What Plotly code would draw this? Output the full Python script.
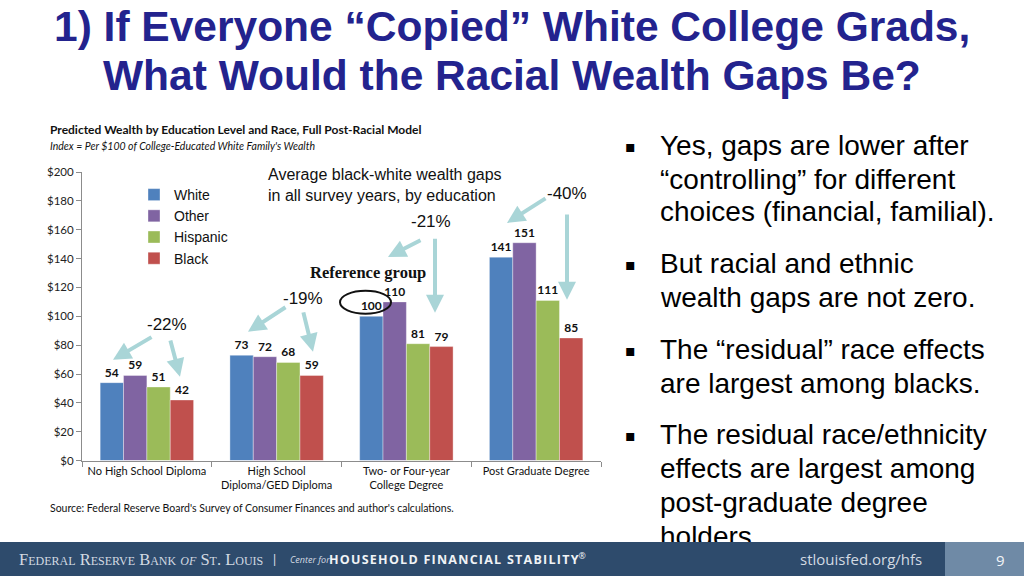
import plotly.graph_objects as go

# ---------------- data ----------------
categories = ["No High School Diploma", "High School<br>Diploma/GED Diploma",
              "Two- or Four-year<br>College Degree", "Post Graduate Degree"]
series_names = ["White", "Other", "Hispanic", "Black"]
white = [54, 73, 100, 141]
other = [59, 72, 110, 151]
hispanic = [51, 68, 81, 111]
black = [42, 59, 79, 85]
series_values = [white, other, hispanic, black]
colors = ["#4F81BD", "#8064A2", "#9BBB59", "#C0504D"]
y_ticks = list(range(0, 201, 20))
y_tick_labels = ["$" + str(v) for v in y_ticks]

title_lines = ["1) If Everyone \u201cCopied\u201d White College Grads,",
               "What Would the Racial Wealth Gaps Be?"]
chart_title = "Predicted Wealth by Education Level and Race, Full Post-Racial Model"
chart_subtitle = "Index = Per $100 of College-Educated White Family's Wealth"
source_text = "Source: Federal Reserve Board's Survey of Consumer Finances and author's calculations."
note_text = "Average black-white wealth gaps<br>in all survey years, by education"
bullets = [
    ["Yes, gaps are lower after", "\u201ccontrolling\u201d for different", "choices (financial, familial)."],
    ["But racial and ethnic", "wealth gaps are not zero."],
    ["The \u201cresidual\u201d race effects", "are largest among blacks."],
    ["The residual race/ethnicity", "effects are largest among", "post-graduate degree", "holders."],
]
page_number = "9"
gaps = [round((b / w - 1) * 100) for b, w in zip(black, white)]

# ---------------- layout helpers ----------------
W, H = 1024, 576
VS, VOFF = 0.979, 6.7   # vertical fit of the photographed page
def px(x):
    return x / W
def ypx(y):
    return (y - VOFF) / VS
def py(y):
    return 1 - ypx(y) / H

fig = go.Figure()
for name, vals, col in zip(series_names, series_values, colors):
    fig.add_trace(go.Bar(
        x=categories, y=vals, name=name, legendgroup=name,
        marker=dict(color=col, line=dict(color="rgba(255,255,255,0.6)", width=0.6)),
        text=vals, textposition="outside", cliponaxis=False,
        textfont=dict(family="Lato, Liberation Sans, sans-serif", size=12, color="#111"),
        texttemplate="<b>%{text}</b>",
    ))

ann = []
# main title
for line, yc in zip(title_lines, [26, 75]):
    ann.append(dict(text="<b>" + line + "</b>", x=0.5, y=py(yc), xref="paper", yref="paper",
                    xanchor="center", yanchor="middle", showarrow=False,
                    font=dict(family="Liberation Sans Narrow, Arial Narrow, Liberation Sans, sans-serif",
                              size=42.5, color="#23238E")))
# chart titles
ann.append(dict(text="<b>" + chart_title + "</b>", x=px(48), y=py(129), xref="paper", yref="paper",
                xanchor="left", yanchor="middle", showarrow=False,
                font=dict(family="Lato, sans-serif", size=12, color="#111")))
ann.append(dict(text="<i>" + chart_subtitle + "</i>", x=px(48), y=py(146), xref="paper", yref="paper",
                xanchor="left", yanchor="middle", showarrow=False,
                font=dict(family="Lato, sans-serif", size=10.5, color="#111")))
ann.append(dict(text=source_text, x=px(48), y=py(509), xref="paper", yref="paper",
                xanchor="left", yanchor="middle", showarrow=False,
                font=dict(family="Lato, sans-serif", size=10.5, color="#111")))
# note
ann.append(dict(text=note_text, x=px(266), y=py(185), xref="paper", yref="paper",
                xanchor="left", yanchor="middle", align="left", showarrow=False,
                font=dict(family="Liberation Sans, Arial, sans-serif", size=16, color="#111")))
# percentage labels
pct_pos = [(167, 325), (303, 299), (431, 222), (567, 193)]
for g, (xc, yc) in zip(gaps, pct_pos):
    ann.append(dict(text=f"{g}%", x=px(xc), y=py(yc), xref="paper", yref="paper",
                    xanchor="center", yanchor="middle", showarrow=False,
                    font=dict(family="Liberation Sans, Arial, sans-serif", size=17, color="#111")))
ann.append(dict(text="<b>Reference group</b>", x=px(368), y=py(273), xref="paper", yref="paper",
                xanchor="center", yanchor="middle", showarrow=False,
                font=dict(family="Liberation Serif, Times New Roman, serif", size=16.5, color="#111")))
# arrows (tail -> head, pixels)
arrows = [((153, 337), (113, 360)), ((170, 340), (180, 377)),
          ((287, 307), (248, 332)), ((303, 312), (313, 352)),
          ((422, 240), (388, 257)), ((435, 239), (435, 313)),
          ((547, 198), (507, 223)), ((567, 215), (567, 300))]
for (tx, ty), (hx, hy) in arrows:
    ann.append(dict(text="", x=px(hx), y=py(hy), xref="paper", yref="paper",
                    ax=tx - hx, ay=ypx(ty) - ypx(hy), showarrow=True, arrowhead=2, arrowsize=0.9,
                    arrowwidth=4, arrowcolor="#A9D5D7", standoff=0))
# bullets
bullet_y = [[145, 179, 212], [264, 298], [350, 384], [435, 469, 503, 537]]
for lines, ys in zip(bullets, bullet_y):
    ann.append(dict(text="\u25aa", x=px(630), y=py(ys[0] + 1), xref="paper", yref="paper",
                    xanchor="center", yanchor="middle", showarrow=False,
                    font=dict(family="DejaVu Sans, sans-serif", size=16, color="#000")))
    for line, yc in zip(lines, ys):
        ann.append(dict(text=line, x=px(658), y=py(yc), xref="paper", yref="paper",
                        xanchor="left", yanchor="middle", showarrow=False,
                        font=dict(family="Liberation Sans, Arial, sans-serif", size=28, color="#000")))
# footer band (annotation so it covers the last bullet line)
band_h = ypx(592) - ypx(544)
ann.append(dict(text=" ", x=-0.005, y=py(592), xref="paper", yref="paper", xanchor="left", yanchor="bottom",
                width=1040, height=band_h, bgcolor="#2E4B6C", borderpad=0, borderwidth=0, showarrow=False,
                font=dict(size=10)))
ann.append(dict(text=" ", x=px(945), y=py(592), xref="paper", yref="paper", xanchor="left", yanchor="bottom",
                width=85, height=band_h, bgcolor="#6F8AA6", borderpad=0, borderwidth=0, showarrow=False,
                font=dict(size=10)))
ann.append(dict(text=page_number, x=px(1000), y=py(561), xref="paper", yref="paper",
                xanchor="center", yanchor="middle", showarrow=False,
                font=dict(family="Open Sans, sans-serif", size=15, color="#F2F4F7")))
ann.append(dict(text="Federal Reserve Bank <i>of</i> St. Louis", x=px(17), y=py(560), xref="paper", yref="paper",
                xanchor="left", yanchor="middle", showarrow=False,
                font=dict(family="Liberation Serif, serif", size=16.5, color="#D3DAE2", variant="small-caps")))
ann.append(dict(text="|", x=px(274), y=py(560), xref="paper", yref="paper",
                xanchor="center", yanchor="middle", showarrow=False,
                font=dict(family="Liberation Sans, sans-serif", size=12, color="#D3DAE2")))
ann.append(dict(text="<i>Center for</i>", x=px(288), y=py(560), xref="paper", yref="paper",
                xanchor="left", yanchor="middle", showarrow=False,
                font=dict(family="Open Sans, sans-serif", size=9, color="#D3DAE2")))
spaced = "\u200a".join("HOUSEHOLD FINANCIAL STABILITY")
ann.append(dict(text="<b>" + spaced + "</b><sup>\u00ae</sup>", x=px(327), y=py(560),
                xref="paper", yref="paper", xanchor="left", yanchor="middle", showarrow=False,
                font=dict(family="Open Sans, sans-serif", size=12.5, color="#F0F3F6")))
ann.append(dict(text="stlouisfed.org/hfs", x=px(861), y=py(560), xref="paper", yref="paper",
                xanchor="center", yanchor="middle", showarrow=False,
                font=dict(family="Open Sans, sans-serif", size=15, color="#D3DAE2")))

# logo zigzag
logo = [(600, 570), (606, 556), (612, 566), (622, 551)]
path = "M " + " L ".join(f"{px(a):.5f},{py(b):.5f}" for a, b in logo)
shapes = [
    dict(type="circle", xref="paper", yref="paper", x0=px(340), x1=px(391), y0=py(314), y1=py(291),
         line=dict(color="#111", width=2)),
    dict(type="path", xref="paper", yref="paper", path=path, line=dict(color="white", width=3.5)),
    dict(type="path", xref="paper", yref="paper",
         path=f"M {px(617):.5f},{py(549):.5f} L {px(626):.5f},{py(547):.5f} L {px(624):.5f},{py(556):.5f} Z",
         fillcolor="white", line=dict(color="white", width=1)),
]

fig.update_layout(
    width=W, height=H, margin=dict(l=0, r=0, t=0, b=0),
    paper_bgcolor="white", plot_bgcolor="white",
    barmode="group", bargap=0.28, bargroupgap=0,
    showlegend=True,
    legend=dict(x=px(134), y=py(179), xanchor="left", yanchor="top", bgcolor="rgba(0,0,0,0)",
                font=dict(family="Liberation Sans, Arial, sans-serif", size=14, color="#111"),
                tracegroupgap=0, itemwidth=30),
    xaxis=dict(domain=[px(82), px(601)], showline=True, linecolor="#8C8C8C", linewidth=1,
               ticks="outside", tickson="boundaries", ticklen=5, tickcolor="#8C8C8C",
               tickfont=dict(family="Lato, sans-serif", size=11, color="#111"), showgrid=False),
    yaxis=dict(domain=[py(461), py(172)], range=[0, 200], tickvals=y_ticks, ticktext=y_tick_labels,
               showline=True, linecolor="#8C8C8C", linewidth=1, ticks="outside", ticklen=5,
               tickcolor="#8C8C8C", showgrid=False, zeroline=False,
               tickfont=dict(family="Lato, sans-serif", size=11.5, color="#222")),
    annotations=ann, shapes=shapes,
)

post = (
    "var de=document.documentElement, b=document.body;"
    "de.style.margin='0';de.style.padding='0';de.style.overflow='hidden';"
    "b.style.margin='0';b.style.padding='0';b.style.overflow='hidden';"
)
fig.write_html("out.html", config={"displayModeBar": False}, post_script=post)
